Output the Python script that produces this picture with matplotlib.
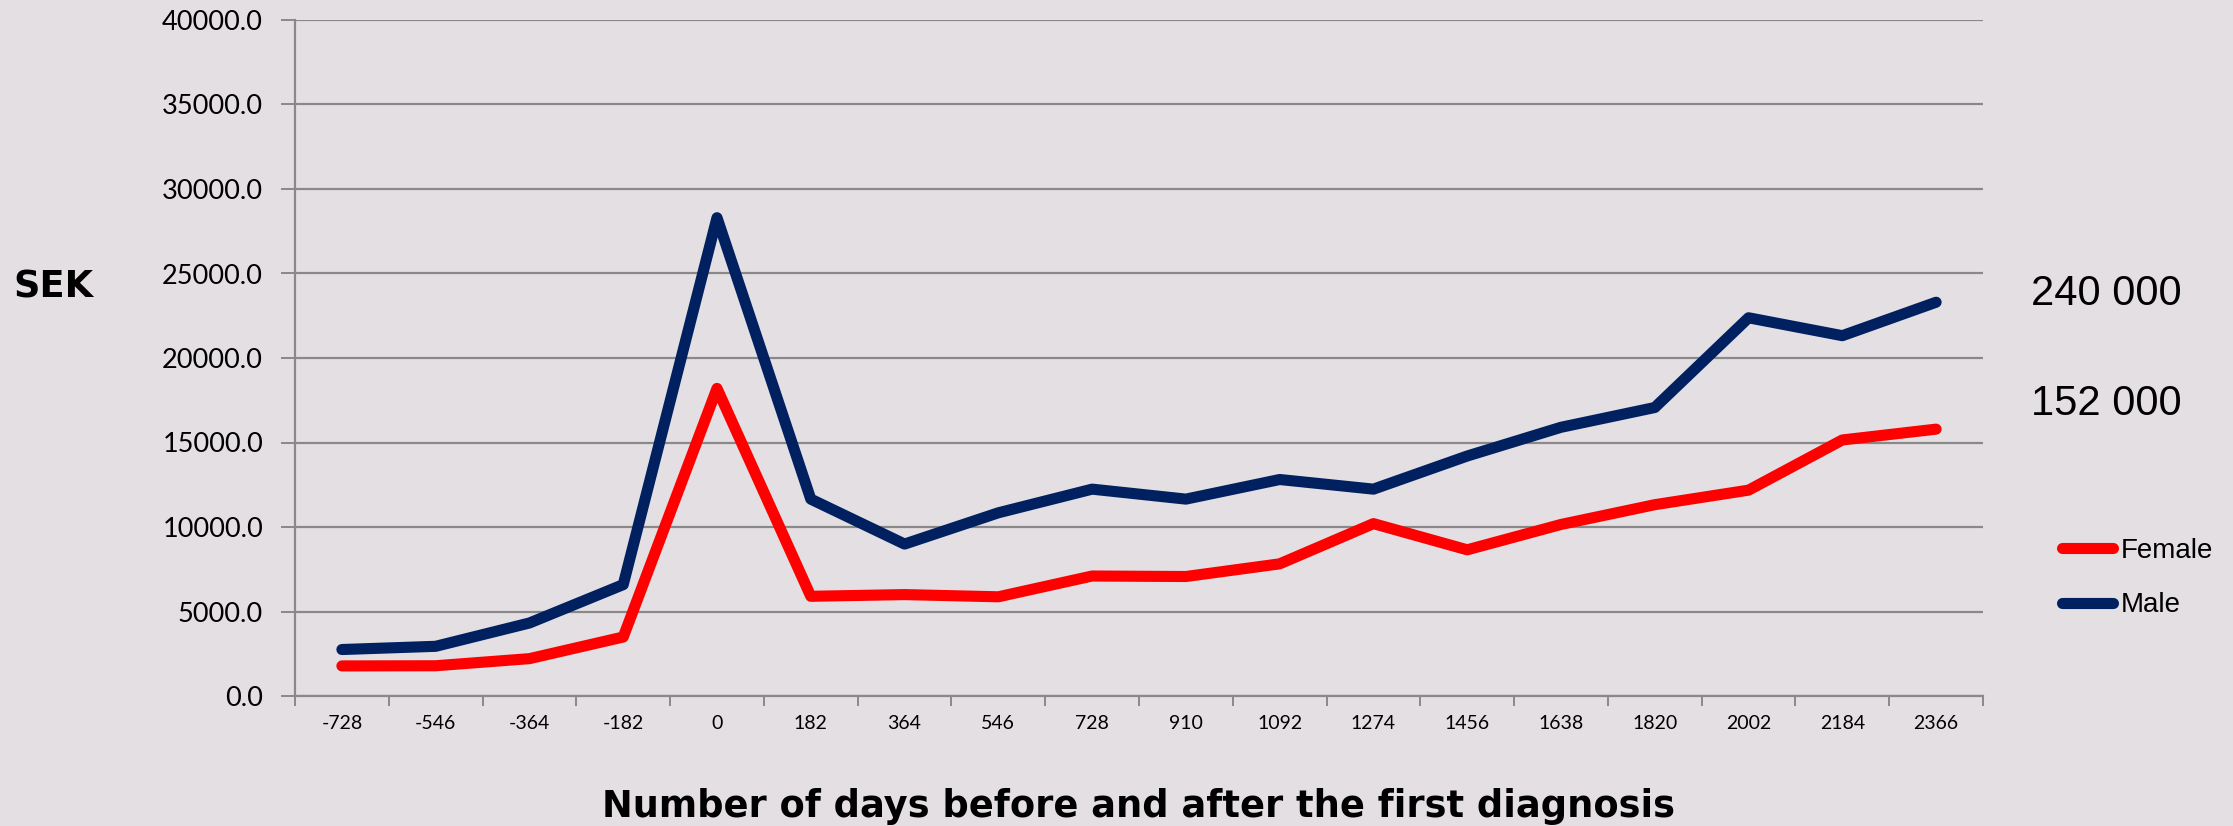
import matplotlib
matplotlib.use("Agg")
import matplotlib.pyplot as plt
from matplotlib.ticker import FixedLocator, FuncFormatter

days = [-728, -546, -364, -182, 0, 182, 364, 546, 728, 910, 1092, 1274,
        1456, 1638, 1820, 2002, 2184, 2366]
female = [1780, 1790, 2210, 3490, 18200, 5900, 6000, 5870, 7100, 7070, 7820, 10200,
          8650, 10150, 11320, 12180, 15150, 15790]
male = [2750, 2940, 4320, 6590, 28300, 11650, 8990, 10840, 12240, 11650, 12810, 12240,
        14200, 15900, 17070, 22380, 21320, 23300]
yticks = [0, 5000, 10000, 15000, 20000, 25000, 30000, 35000, 40000]
totals = ["240 000", "152 000"]
series_names = ["Female", "Male"]

W, H = 2233, 826
BG = "#E3DFE3"
GRID = "#898989"
RED = "#FF0000"
NAVY = "#002060"
TICKFONT = ["Lato", "DejaVu Sans"]

fig = plt.figure(figsize=(W / 100, H / 100), dpi=100, facecolor=BG)
ax = fig.add_axes([295 / W, 1 - 696 / H, (1983 - 295) / W, (696 - 20) / H])
ax.set_facecolor(BG)

xpos = list(range(len(days)))
lw = 8.0
lf, = ax.plot(xpos, female, color=RED, lw=lw, solid_capstyle="round",
              solid_joinstyle="round", zorder=3, label=series_names[0])
lm, = ax.plot(xpos, male, color=NAVY, lw=lw, solid_capstyle="round",
              solid_joinstyle="round", zorder=3, label=series_names[1])

ax.set_xlim(-0.5, len(days) - 0.5)
ax.set_ylim(0, 40000)
ax.set_yticks(yticks)
ax.yaxis.set_major_formatter(FuncFormatter(lambda v, p: f"{v:.1f}"))
ax.yaxis.grid(True, color=GRID, lw=1.6, zorder=1)
ax.set_axisbelow(True)

ax.xaxis.set_major_locator(FixedLocator(xpos))
ax.set_xticklabels([str(d) for d in days])
ax.xaxis.set_minor_locator(FixedLocator([i - 0.5 for i in range(len(days) + 1)]))
ax.tick_params(axis="x", which="major", length=0, pad=14, labelsize=14, colors="black")
ax.tick_params(axis="x", which="minor", length=7, width=1.4, color=GRID, direction="out")
ax.tick_params(axis="y", which="major", length=10, width=1.4, color=GRID, pad=13,
               labelsize=19.5, labelcolor="black")
for lab in ax.get_xticklabels() + ax.get_yticklabels():
    lab.set_family(TICKFONT)

for s in ["top", "right"]:
    ax.spines[s].set_visible(False)
for s in ["left", "bottom"]:
    ax.spines[s].set_color(GRID)
    ax.spines[s].set_linewidth(1.6)

fig.text(13 / W, 1 - 297 / H, "SEK", fontsize=26.5, fontweight="bold",
         family="DejaVu Sans", ha="left", va="baseline")
fig.text((295 + 1983) / 2 / W, 1 - 817 / H,
         "Number of days before and after the first diagnosis",
         fontsize=26.5, fontweight="bold", family="DejaVu Sans",
         ha="center", va="baseline")

fig.text(2031 / W, 1 - 305 / H, totals[0], fontsize=30, family="Liberation Sans",
         ha="left", va="baseline")
fig.text(2031 / W, 1 - 415 / H, totals[1], fontsize=30, family="Liberation Sans",
         ha="left", va="baseline")

leg = fig.legend(handles=[lf, lm], loc="center left",
                 bbox_to_anchor=(2062 / W, 1 - 578 / H),
                 frameon=False, borderpad=0, borderaxespad=0,
                 handlelength=1.85, handletextpad=0.25, labelspacing=1.04,
                 prop={"family": "Liberation Sans", "size": 20})

fig.savefig("out.png", dpi=100, facecolor=BG)
